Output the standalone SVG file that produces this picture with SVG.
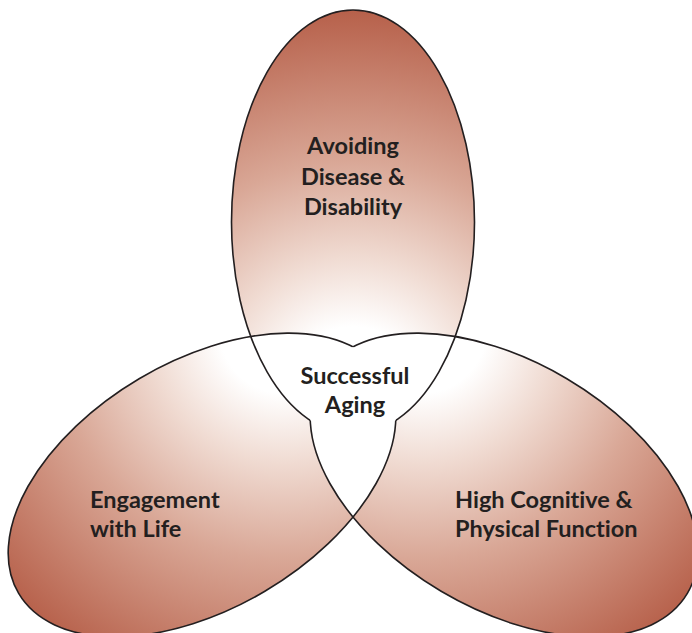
<svg xmlns="http://www.w3.org/2000/svg" xmlns:xlink="http://www.w3.org/1999/xlink" width="692" height="633" viewBox="0 0 692 633">
  <style>
    .lbl { font-family: Lato, "Open Sans", "Liberation Sans", sans-serif; font-weight: 700; font-size: 23.5px; fill: #231f20; font-variant-ligatures: none; }
    .outline { fill: none; stroke: #231f20; stroke-width: 1.6; }
    .white { fill: #ffffff; }
  </style>
  <defs>
    <radialGradient id="grad" gradientUnits="userSpaceOnUse" cx="353" cy="392" r="385">
      <stop offset="0" stop-color="#ffffff"/>
      <stop offset="0.17" stop-color="#ffffff"/>
      <stop offset="0.35" stop-color="#f0dbd2"/>
      <stop offset="0.6" stop-color="#d9a796"/>
      <stop offset="1" stop-color="#b65f49"/>
    </radialGradient>
    <ellipse id="eT" cx="353" cy="222" rx="121.5" ry="212"/>
    <ellipse id="eL" cx="202" cy="485" rx="213" ry="123.5" transform="rotate(-30.6 202 485)"/>
    <ellipse id="eR" cx="504" cy="485" rx="213" ry="123.5" transform="rotate(30.6 504 485)"/>
    <clipPath id="cT"><use xlink:href="#eT"/></clipPath>
    <clipPath id="cL"><use xlink:href="#eL"/></clipPath>
    <clipPath id="cR"><use xlink:href="#eR"/></clipPath>
    <mask id="mT" maskUnits="userSpaceOnUse" x="0" y="0" width="692" height="633">
      <rect x="0" y="0" width="692" height="633" fill="#fff"/>
      <g clip-path="url(#cR)"><use xlink:href="#eL" fill="#000"/></g>
    </mask>
    <mask id="mL" maskUnits="userSpaceOnUse" x="0" y="0" width="692" height="633">
      <rect x="0" y="0" width="692" height="633" fill="#fff"/>
      <g clip-path="url(#cR)"><use xlink:href="#eT" fill="#000"/></g>
    </mask>
    <mask id="mR" maskUnits="userSpaceOnUse" x="0" y="0" width="692" height="633">
      <rect x="0" y="0" width="692" height="633" fill="#fff"/>
      <g clip-path="url(#cL)"><use xlink:href="#eT" fill="#000"/></g>
    </mask>
  </defs>

  <g id="avoiding-disease">
    <use xlink:href="#eT" fill="url(#grad)"/>
    <text class="lbl" text-anchor="middle" x="353" y="154">Avoiding</text>
    <text class="lbl" text-anchor="middle" x="353" y="185">Disease &amp;</text>
    <text class="lbl" text-anchor="middle" x="353" y="215">Disability</text>
  </g>

  <g id="engagement-with-life">
    <use xlink:href="#eL" fill="url(#grad)"/>
    <text class="lbl" x="90" y="508">Engagement</text>
    <text class="lbl" x="90" y="537">with Life</text>
  </g>

  <g id="cognitive-physical-function">
    <use xlink:href="#eR" fill="url(#grad)"/>
    <text class="lbl" x="455" y="508">High Cognitive &amp;</text>
    <text class="lbl" x="455" y="537">Physical Function</text>
  </g>

  <g id="successful-aging">
    <g clip-path="url(#cT)">
      <use xlink:href="#eL" class="white"/>
      <use xlink:href="#eR" class="white"/>
    </g>
    <g clip-path="url(#cL)">
      <use xlink:href="#eR" class="white"/>
    </g>
    <text class="lbl" text-anchor="middle" x="355" y="384">Successful</text>
    <text class="lbl" text-anchor="middle" x="355" y="413">Aging</text>
  </g>

  <g id="connectors">
    <use xlink:href="#eT" class="outline" mask="url(#mT)"/>
    <use xlink:href="#eL" class="outline" mask="url(#mL)"/>
    <use xlink:href="#eR" class="outline" mask="url(#mR)"/>
  </g>
</svg>
